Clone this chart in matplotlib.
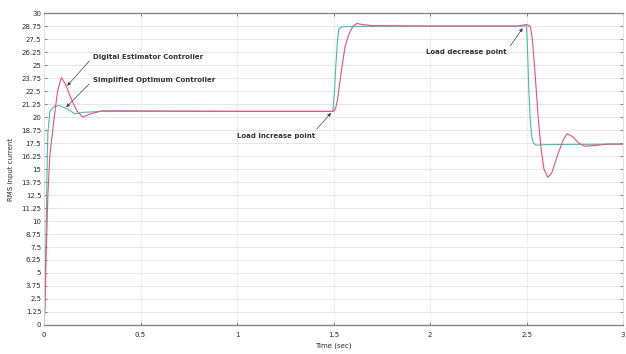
import matplotlib.pyplot as plt
import numpy as np

# RMS input current response: start-up, load step up at 1.5 s, load step down at 2.5 s
t_estimator = [0, 0.005, 0.01, 0.02, 0.03, 0.05, 0.07, 0.09, 0.11, 0.14, 0.17, 0.2, 0.24,
               0.3, 0.4, 1.0, 1.5, 1.51, 1.52, 1.53, 1.545, 1.56, 1.58, 1.6, 1.62, 1.65,
               1.7, 2.0, 2.45, 2.5, 2.52, 2.53, 2.545, 2.56, 2.575, 2.59, 2.61, 2.63, 2.66,
               2.69, 2.71, 2.74, 2.77, 2.8, 2.85, 2.92, 3.0]
i_estimator = [0, 1.5, 6.0, 12.5, 16.3, 19.5, 22.5, 23.8, 23.2, 21.8, 20.6, 20.0, 20.3,
               20.6, 20.6, 20.55, 20.55, 20.8, 21.6, 23.0, 25.0, 26.8, 28.0, 28.7, 29.0, 28.9,
               28.8, 28.75, 28.75, 28.9, 28.7, 27.5, 24.0, 20.0, 17.0, 15.0, 14.2, 14.6, 16.3,
               17.8, 18.4, 18.1, 17.5, 17.2, 17.25, 17.4, 17.4]

t_optimum = [0, 0.005, 0.01, 0.015, 0.02, 0.03, 0.05, 0.08, 0.12, 0.16, 0.2, 0.3, 1.0,
             1.497, 1.505, 1.512, 1.52, 1.527, 1.535, 1.55, 1.6, 2.0, 2.5, 2.505, 2.512,
             2.52, 2.528, 2.535, 2.55, 2.6, 3.0]
i_optimum = [0, 3.0, 8.0, 14.0, 18.5, 20.5, 21.0, 21.1, 20.8, 20.3, 20.45, 20.55, 20.55,
             20.55, 22.5, 25.0, 27.2, 28.4, 28.6, 28.7, 28.72, 28.75, 28.75, 26.5, 22.5,
             19.5, 18.0, 17.5, 17.3, 17.35, 17.4]

y_ticks = np.arange(0, 30.01, 1.25)
x_ticks = [0, 0.5, 1, 1.5, 2, 2.5, 3]

fig = plt.figure(figsize=(6.26, 3.54), dpi=100)
ax = fig.add_axes([0.0703, 0.082, 0.925, 0.881])

ax.plot(t_optimum, i_optimum, color='#45bdb0', lw=0.8)
ax.plot(t_estimator, i_estimator, color='#e8507c', lw=0.8)

ax.set_xlim(0, 3)
ax.set_ylim(0, 30)
ax.set_yticks(y_ticks)
ax.set_yticklabels(['%g' % v for v in y_ticks])
ax.set_xticks(x_ticks)
ax.set_xticklabels(['%g' % v for v in x_ticks])
ax.tick_params(direction='in', length=2.5, width=0.5, labelsize=5, pad=2,
               top=True, right=True, colors='#555555', labelcolor='#2a2a2a')
ax.tick_params(axis='x', pad=5)

# MATLAB-like grid: solid horizontal, dotted vertical
ax.yaxis.grid(True, color='#e2e2e2', lw=0.6, ls='-')
ax.xaxis.grid(True, color='#cfcfcf', lw=0.6, ls=':')
ax.set_axisbelow(True)
for side in ['left', 'right']:
    ax.spines[side].set_color('#dddddd')
    ax.spines[side].set_linewidth(0.6)
for side in ['top', 'bottom']:
    ax.spines[side].set_color('#888888')
    ax.spines[side].set_linewidth(1.0)

ax.set_xlabel('Time (sec)', fontsize=5, labelpad=3, color='#2a2a2a')
ax.set_ylabel('RMS input current', fontsize=5, labelpad=5, color='#2a2a2a')

arrow = dict(arrowstyle='-|>', color='#444444', lw=0.5, mutation_scale=5,
             shrinkA=1, shrinkB=0)
txt = dict(fontsize=5, fontweight='bold', color='#333333', va='center')

ax.annotate('Digital Estimator Controller', xy=(0.12, 23.0), xytext=(0.254, 25.8),
            arrowprops=dict(arrow, relpos=(0, 0.5)), ha='left', **txt)
ax.annotate('Simplified Optimum Controller', xy=(0.115, 20.95), xytext=(0.254, 23.55),
            arrowprops=dict(arrow, relpos=(0, 0.5)), ha='left', **txt)
ax.annotate('Load increase point', xy=(1.487, 20.4), xytext=(1.0, 18.2),
            arrowprops=dict(arrow, relpos=(0.97, 0.9)), ha='left', **txt)
ax.annotate('Load decrease point', xy=(2.48, 28.55), xytext=(1.98, 26.25),
            arrowprops=dict(arrow, relpos=(1.0, 0.7)), ha='left', **txt)

fig.savefig('out.png', dpi=100)
